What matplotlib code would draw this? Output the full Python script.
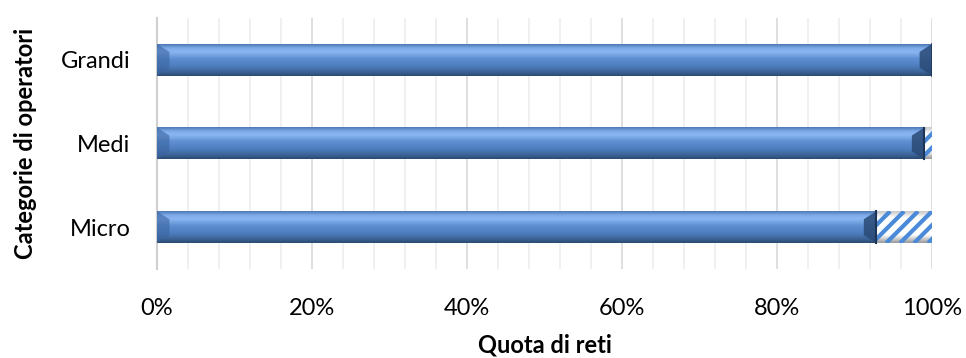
import numpy as np
import matplotlib.pyplot as plt
from matplotlib.colors import LinearSegmentedColormap
from matplotlib.patches import Polygon
from matplotlib.ticker import MultipleLocator, PercentFormatter

categories = ['Micro', 'Medi', 'Grandi']
share_main = [92.8, 99.0, 100.0]   # quota principale (%)
share_other = [7.2, 1.0, 0.0]      # quota residua (%)

plt.rcParams['font.family'] = ['Lato', 'DejaVu Sans']

fig = plt.figure(figsize=(9.66, 3.58), dpi=100)
ax = fig.add_axes([157 / 966, 89 / 358, 775 / 966, 251 / 358])

bar_h = 0.38
y = np.arange(len(categories))

# gradiente verticale per l'effetto "cilindro" delle barre (riga 0 = bordo alto)
bar_cmap = LinearSegmentedColormap.from_list('bevel', [
    (0.0, '#4c79b4'), (0.12, '#7eaaea'), (0.25, '#8ab6f2'),
    (0.45, '#5f8fd2'), (0.7, '#4d7dbd'), (0.88, '#3c6397'), (1.0, '#2c4a72')])
grad = np.linspace(0, 1, 64).reshape(-1, 1)

hatch_cmap = LinearSegmentedColormap.from_list('hatchbg', [
    (0.0, '#c8c8c8'), (0.2, '#ffffff'), (0.75, '#ffffff'), (1.0, '#9a9a9a')])

ax.set_xlim(0, 100)
ax.set_ylim(-0.5, len(categories) - 0.5)

for yi, v in zip(y, share_main):
    y0, y1 = yi - bar_h / 2, yi + bar_h / 2
    ax.imshow(grad, cmap=bar_cmap, aspect='auto', extent=(0, v, y0, y1),
              origin='upper', zorder=3, interpolation='bicubic')
    # smussatura a sinistra e a destra
    ax.add_patch(Polygon([(0, y0), (1.6, yi - bar_h / 4), (1.6, yi + bar_h / 4), (0, y1)],
                         closed=True, facecolor='#3a64a0', alpha=0.6, lw=0, zorder=4))
    ax.add_patch(Polygon([(v, y0), (v - 1.6, yi - bar_h / 4), (v - 1.6, yi + bar_h / 4), (v, y1)],
                         closed=True, facecolor='#2a4a76', alpha=0.85, lw=0, zorder=4))
    ax.plot([v, v], [y0, y1], color='#1f3558', lw=1.2, zorder=4)

# parte residua: fondo bianco con righe oblique blu
for yi, m, o in zip(y, share_main, share_other):
    if o <= 0:
        continue
    y0, y1 = yi - bar_h / 2, yi + bar_h / 2
    ax.imshow(grad, cmap=hatch_cmap, aspect='auto', extent=(m, m + o, y0, y1),
              origin='upper', zorder=3, interpolation='bicubic')
    clip = ax.barh(yi, o, left=m, height=bar_h, color='none', lw=0, zorder=3)[0]
    step = 1.8
    rise = bar_h * 84 / 7.75
    for xs in np.arange(m - rise, m + o + step, step):
        ln, = ax.plot([xs, xs + rise], [y0, y1], color='#4a8ad8', lw=3.0,
                      zorder=4, solid_capstyle='butt')
        ln.set_clip_path(clip)
    ax.plot([m, m], [y0, y1], color='#1f3558', lw=1.5, zorder=5)

ax.set_xlim(0, 100)
ax.set_ylim(-0.5, len(categories) - 0.5)
ax.set_yticks(y)
ax.set_yticklabels(categories)
ax.xaxis.set_major_locator(MultipleLocator(20))
ax.xaxis.set_minor_locator(MultipleLocator(4))
ax.xaxis.set_major_formatter(PercentFormatter(decimals=0))
ax.grid(axis='x', which='major', color='#d9d9d9', lw=1.2, zorder=0)
ax.grid(axis='x', which='minor', color='#eeeeee', lw=1.2, zorder=0)
ax.tick_params(axis='both', which='both', length=0, labelsize=17)
ax.tick_params(axis='x', pad=21)
ax.tick_params(axis='y', pad=19)
for s in ['top', 'right', 'bottom']:
    ax.spines[s].set_visible(False)
ax.spines['left'].set_color('#d0d0d0')
ax.spines['left'].set_linewidth(1.5)

ax.set_xlabel('Quota di reti', fontsize=17, fontweight='bold', labelpad=10)
ax.set_ylabel('Categorie di operatori', fontsize=17, fontweight='bold', labelpad=17)

fig.savefig('out.png', dpi=100)
